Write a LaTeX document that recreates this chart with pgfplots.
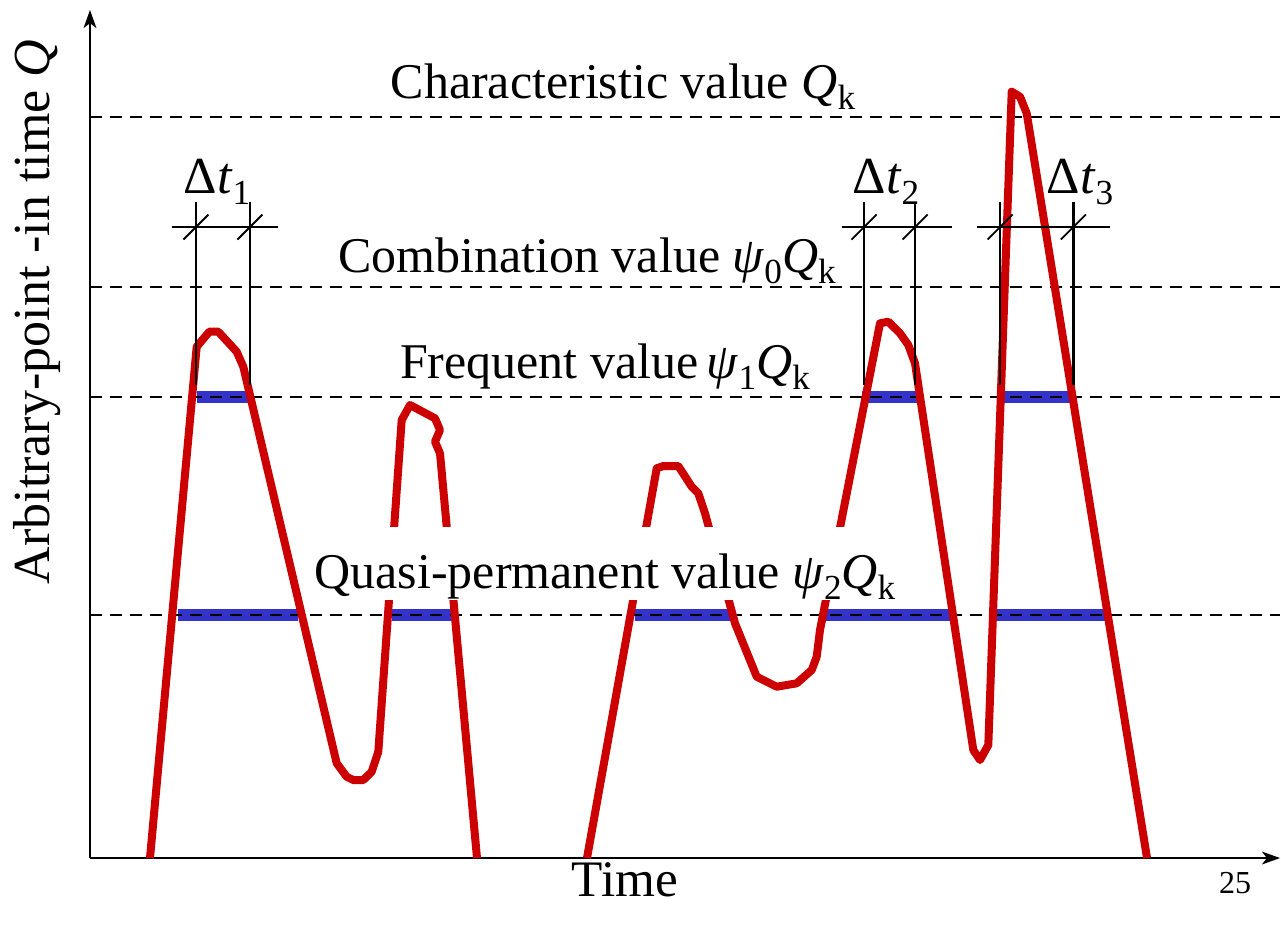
\documentclass[border=0pt]{standalone}
\usepackage{fontspec}
\setmainfont{Liberation Serif}
\usepackage{pgfplots}
\pgfplotsset{compat=1.18}
\usetikzlibrary{arrows.meta}
\definecolor{cred}{RGB}{204,0,0}
\definecolor{cblue}{RGB}{51,51,204}
\newcommand{\sub}[1]{\raisebox{-0.5ex}{\fontsize{8.8pt}{8.8pt}\selectfont #1}}
\begin{document}
\begin{tikzpicture}
\begin{axis}[
  x=0.25pt, y=0.25pt,
  xmin=0, xmax=1190, ymin=0, ymax=848,
  axis lines=left,
  axis line style={line width=0.45pt, -{Stealth[length=4.5pt,width=3.2pt,inset=1.2pt]}},
  xtick=\empty, ytick=\empty,
  clip=false,
]
\coordinate (BL) at (axis cs:-90,-68);
\coordinate (TR) at (axis cs:1191,858);
% blue bands
\addplot[cblue, line width=3pt, forget plot] coordinates {(107,461) (159,461)};
\addplot[cblue, line width=3pt, forget plot] coordinates {(772,461) (828,461)};
\addplot[cblue, line width=3pt, forget plot] coordinates {(911,461) (985,461)};
\addplot[cblue, line width=3pt, forget plot] coordinates {(88,243) (208,243)};
\addplot[cblue, line width=3pt, forget plot] coordinates {(302,243) (368,243)};
\addplot[cblue, line width=3pt, forget plot] coordinates {(545,243) (643,243)};
\addplot[cblue, line width=3pt, forget plot] coordinates {(733,243) (862,243)};
\addplot[cblue, line width=3pt, forget plot] coordinates {(903,243) (1017,243)};
% dashed levels
\addplot[black, line width=0.4pt, dash pattern=on 3pt off 2pt, forget plot] coordinates {(0,741) (1190,741)};
\addplot[black, line width=0.4pt, dash pattern=on 3pt off 2pt, forget plot] coordinates {(0,571) (1190,571)};
\addplot[black, line width=0.4pt, dash pattern=on 3pt off 2pt, forget plot] coordinates {(0,461) (1190,461)};
\addplot[black, line width=0.4pt, dash pattern=on 3pt off 2pt, forget plot] coordinates {(0,243) (1190,243)};
% red load history
\addplot[cred, line width=2pt, line join=round, forget plot] coordinates {
(60,0) (106.7,511.3) (119.3,526.3) (128.3,526.3) (146.7,506.3) (153.3,491.3)
(246.7,94.7) (256.7,81.3) (263.3,78) (273.3,78) (281.7,86.3) (288.3,106.3)
(311.7,438) (320,453) (345,439.7) (350,428) (345,416.3) (350,404.7) (387,0)};
\addplot[cred, line width=2pt, line join=round, forget plot] coordinates {
(497,0) (566.7,389.7) (573.3,392) (588.3,392) (601.7,371.3) (608.3,364.7)
(615,344.7) (645,234.7) (666.7,181.3) (686.7,171.3) (706.7,174.7) (721.7,188)
(726.7,201.3) (730,228) (790,534.7) (798.3,536.3) (810,524.7) (818.3,513)
(825,494.7) (883.3,108) (890,98) (898.3,113) (921.7,766.3) (930,761.3)
(936.7,744.7) (1057,0)};
% Delta t 1
\addplot[black, line width=0.45pt, forget plot] coordinates {(106,473) (106,656)};
\addplot[black, line width=0.45pt, forget plot] coordinates {(160,473) (160,656)};
\addplot[black, line width=0.45pt, forget plot] coordinates {(81.7,631) (188.3,631)};
\addplot[black, line width=0.45pt, forget plot] coordinates {(93.5,618.5) (118.5,643.5)};
\addplot[black, line width=0.45pt, forget plot] coordinates {(147.5,618.5) (172.5,643.5)};
% Delta t 2
\addplot[black, line width=0.45pt, forget plot] coordinates {(774,473) (774,656)};
\addplot[black, line width=0.45pt, forget plot] coordinates {(825,473) (825,656)};
\addplot[black, line width=0.45pt, forget plot] coordinates {(751.7,631) (861.7,631)};
\addplot[black, line width=0.45pt, forget plot] coordinates {(761.5,618.5) (786.5,643.5)};
\addplot[black, line width=0.45pt, forget plot] coordinates {(812.5,618.5) (837.5,643.5)};
% Delta t 3
\addplot[black, line width=0.65pt, forget plot] coordinates {(910,473) (910,656)};
\addplot[black, line width=0.65pt, forget plot] coordinates {(983.3,473) (983.3,656)};
\addplot[black, line width=0.45pt, forget plot] coordinates {(886.7,631) (1020,631)};
\addplot[black, line width=0.45pt, forget plot] coordinates {(897.5,618.5) (922.5,643.5)};
\addplot[black, line width=0.45pt, forget plot] coordinates {(970.8,618.5) (995.8,643.5)};
% labels
\node[anchor=base, font=\fontsize{13pt}{15pt}\selectfont, inner sep=1pt] at (axis cs:127,665) {Δ\textit{t}\sub{1}};
\node[anchor=base, font=\fontsize{13pt}{15pt}\selectfont, inner sep=1pt] at (axis cs:796,665) {Δ\textit{t}\sub{2}};
\node[anchor=base, font=\fontsize{13pt}{15pt}\selectfont, inner sep=1pt] at (axis cs:990,665) {Δ\textit{t}\sub{3}};
\node[anchor=base, font=\fontsize{12.5pt}{14pt}\selectfont, inner xsep=2pt, inner ysep=1pt] at (axis cs:533,760) {Characteristic value \textit{Q}\sub{k}};
\node[anchor=base, font=\fontsize{12.5pt}{14pt}\selectfont, inner xsep=2pt, inner ysep=1pt] at (axis cs:497,586) {Combination value \textit{ψ}\sub{0}\textit{Q}\sub{k}};
\node[anchor=base, font=\fontsize{12.5pt}{14pt}\selectfont, inner xsep=2pt, inner ysep=1pt] at (axis cs:515,480) {Frequent value\,\textit{ψ}\sub{1}\textit{Q}\sub{k}};
\node[anchor=base, font=\fontsize{12.5pt}{14pt}\selectfont, fill=white, inner xsep=2pt, inner ysep=0pt, text height=15.2pt, text depth=3pt] at (axis cs:515,270) {Quasi-permanent value \textit{ψ}\sub{2}\textit{Q}\sub{k}};
\node[anchor=base, rotate=90, font=\fontsize{13pt}{15pt}\selectfont] at (axis cs:-40,546) {Arbitrary-point -in time \textit{Q}};
\node[anchor=base, font=\fontsize{12.8pt}{15pt}\selectfont] at (axis cs:535,-38) {Time};
\node[anchor=base, font=\fontsize{8pt}{9pt}\selectfont] at (axis cs:1145,-35) {25};
\end{axis}
\pgfresetboundingbox
\path (BL) rectangle (TR);
\end{tikzpicture}
\end{document}
